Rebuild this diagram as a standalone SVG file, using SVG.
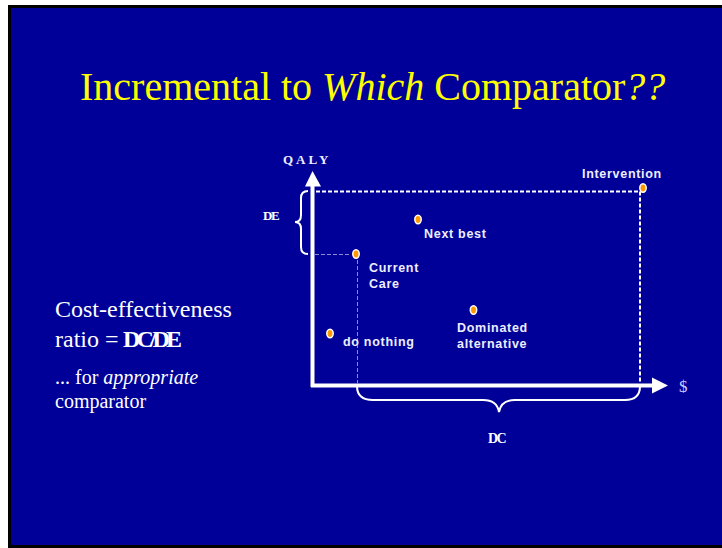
<svg xmlns="http://www.w3.org/2000/svg" width="722" height="548" viewBox="0 0 722 548">
<style>
.serif{font-family:"Liberation Serif","Times New Roman",serif}
.sans{font-family:"Liberation Sans",Arial,sans-serif;font-weight:bold;font-size:12.5px;fill:#eeeeff;letter-spacing:0.7px}
.dot{fill:#ff9900;stroke:#ffffff;stroke-width:1.5}
.axis{stroke:#ffffff;stroke-width:4;fill:none}
.dash{stroke:#ffffff;stroke-width:2;stroke-dasharray:4 2;fill:none}
.thin{stroke:#8c8cd8;stroke-width:1;stroke-dasharray:4 2;fill:none}
.brace{stroke:#ffffff;stroke-width:2;fill:none}
</style>
<rect x="0" y="0" width="722" height="548" fill="#ffffff"/>
<rect x="8" y="5" width="714" height="543" fill="#000000"/>
<rect x="11" y="8" width="711" height="537" fill="#000099"/>
<g id="title">
<text class="serif" x="80" y="100" font-size="40" fill="#ffff00">Incremental to <tspan font-style="italic">Which</tspan> Comparator<tspan font-style="italic">??</tspan></text>
</g>
<g id="connectors">
<line class="axis" x1="312.5" y1="186" x2="312.5" y2="387"/>
<polygon points="312.5,171 305,186.5 321,186.5" fill="#ffffff"/>
<line class="axis" x1="311" y1="385.5" x2="653" y2="385.5"/>
<polygon points="668,385.5 652,377.5 652,393.5" fill="#ffffff"/>
<polyline class="dash" points="316,191.5 640,191.5 640,383"/>
<line class="thin" x1="315" y1="254.5" x2="351" y2="254.5"/>
<line class="thin" x1="357.5" y1="260" x2="357.5" y2="384"/>
<path class="brace" d="M308,191 Q301,191 301,198 L301,215 Q301,222 295,222 Q301,222 301,229 L301,247 Q301,254 308,254"/>
<path class="brace" d="M357,386 Q357,400 373,400 L483,400 Q497,400 499,412 Q501,400 515,400 L625,400 Q640,400 640,386"/>
</g>
<g id="axis-labels">
<text class="serif" x="283" y="164" font-size="13" font-weight="bold" fill="#eeeeff" letter-spacing="3">QALY</text>
<text class="serif" x="679" y="392" font-size="17" fill="#ccccff">$</text>
<text class="serif" x="263" y="220" font-size="13" font-weight="bold" fill="#ffffff" letter-spacing="-1.5">DE</text>
<text class="serif" x="488" y="443" font-size="14" font-weight="bold" fill="#ffffff" letter-spacing="-1.5">DC</text>
</g>
<g id="intervention">
<ellipse class="dot" cx="643" cy="188" rx="3.2" ry="4.2"/>
<text class="sans" x="582" y="178">Intervention</text>
</g>
<g id="next-best">
<ellipse class="dot" cx="418" cy="219.5" rx="3.2" ry="4.2"/>
<text class="sans" x="424" y="238">Next best</text>
</g>
<g id="current-care">
<ellipse class="dot" cx="356" cy="254" rx="3.2" ry="4.2"/>
<text class="sans" x="369" y="272">Current</text>
<text class="sans" x="369" y="288">Care</text>
</g>
<g id="dominated">
<ellipse class="dot" cx="473.5" cy="310" rx="3.2" ry="4.2"/>
<text class="sans" x="457" y="332">Dominated</text>
<text class="sans" x="457" y="348">alternative</text>
</g>
<g id="do-nothing">
<ellipse class="dot" cx="330" cy="333.5" rx="3.2" ry="4.2"/>
<text class="sans" x="343" y="346">do nothing</text>
</g>
<g id="ratio-text">
<text class="serif" x="55" y="317" font-size="24" fill="#ffffff">Cost-effectiveness</text>
<text class="serif" x="55" y="347" font-size="24" fill="#ffffff">ratio = </text>
<text class="serif" x="123" y="347" font-size="24" font-weight="bold" fill="#ffffff" textLength="59" lengthAdjust="spacing">DC/DE</text>
<text class="serif" x="55" y="384" font-size="20" fill="#ffffff">... for <tspan font-style="italic">appropriate</tspan></text>
<text class="serif" x="55" y="408" font-size="20" fill="#ffffff">comparator</text>
</g>
</svg>
